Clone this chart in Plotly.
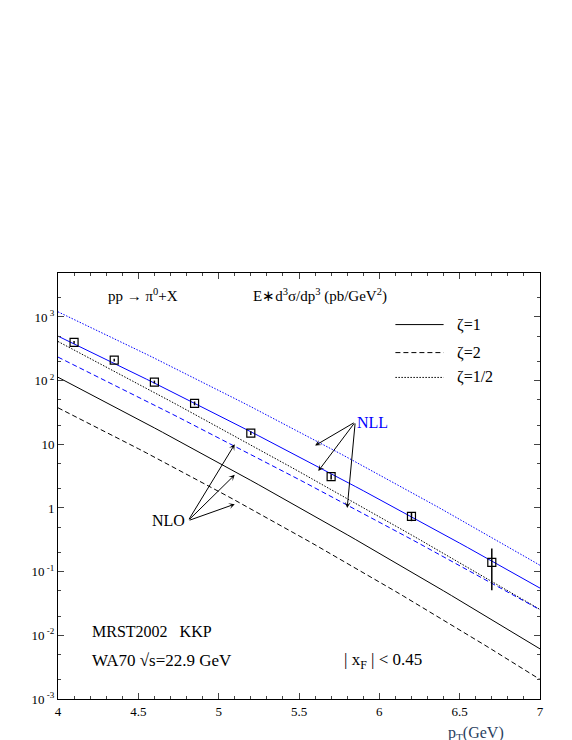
import plotly.graph_objects as go
import numpy as np

pt_grid = [4.0, 5.0, 6.0, 7.0]
# log10 values of theory curves at pt_grid
nll_z1 = [2.70, 1.45, 0.14, -1.26]
nll_z05 = [3.08, 1.85, 0.52, -0.90]
nll_z2 = [2.37, 1.10, -0.22, -1.60]
nlo_z05 = [2.62, 1.25, -0.12, -1.60]
nlo_z1 = [2.04, 0.75, -0.75, -2.20]
nlo_z2 = [1.56, 0.30, -1.20, -2.68]

data_pt = [4.1, 4.35, 4.6, 4.85, 5.2, 5.7, 6.2, 6.7]
data_y = [400, 210, 95, 44, 15, 3.1, 0.74, 0.14]
err_up = [20, 10, 5, 3, 1.0, 0.3, 0.12, 0.09]
err_dn = [20, 10, 5, 3, 1.0, 0.3, 0.12, 0.089]

font = "Liberation Serif"
fig = go.Figure()

def curve(vals, color, dash):
    xs = np.linspace(4, 7, 61)
    c = np.polyfit(pt_grid, vals, 2)
    ys = 10 ** np.polyval(c, xs)
    fig.add_trace(go.Scatter(x=xs, y=ys, mode="lines", showlegend=False,
                             line=dict(color=color, width=1, dash=dash)))

DASH = "5px,3px"
DOT = "1.5px,1.5px"
curve(nlo_z2, "black", DASH)
curve(nlo_z1, "black", "solid")
curve(nlo_z05, "black", DOT)
curve(nll_z2, "blue", DASH)
curve(nll_z1, "blue", "solid")
curve(nll_z05, "blue", DOT)

fig.add_trace(go.Scatter(x=data_pt, y=data_y, mode="markers", showlegend=False,
                         marker=dict(symbol="square-open", size=8, color="black", line=dict(width=1.2)),
                         error_y=dict(type="data", array=err_up, arrayminus=err_dn, color="black", width=0, thickness=1.5)))

def txt(x, y, s, size=14, color="black", anchor="left"):
    fig.add_annotation(x=x, y=y, text=s, showarrow=False, xanchor=anchor, yanchor="middle",
                       font=dict(family=font, size=size, color=color))

txt(4.3, 3.34, "pp → π<sup>0</sup>+X", 15)
txt(5.2, 3.34, "E∗d<sup>3</sup>σ/dp<sup>3</sup> (pb/GeV<sup>2</sup>)", 15)
txt(6.47, 2.88, "ζ=1", 16)
txt(6.47, 2.44, "ζ=2", 16)
txt(6.47, 2.05, "ζ=1/2", 16)
for yv, d in [(2.88, "solid"), (2.44, DASH), (2.05, DOT)]:
    fig.add_shape(type="line", x0=6.1, x1=6.4, y0=10**yv, y1=10**yv, line=dict(color="black", width=1, dash=d))
txt(5.85, 1.35, "NLL", 16, "blue")
txt(4.8, -0.2, "NLO", 16, anchor="right")
txt(4.2, -1.94, "MRST2002   KKP", 16)
txt(4.2, -2.40, "WA70 √s=22.9 GeV", 17)
txt(5.77, -2.40, "| x<sub>F</sub> | < 0.45", 17)

for (tx, ty) in [(5.6, 0.98), (5.62, 0.58), (5.8, 0.0)]:
    fig.add_annotation(x=tx, y=ty, ax=5.85, ay=1.35, axref="x", ayref="y", xref="x", yref="y",
                       showarrow=True, arrowhead=3, arrowsize=1, arrowwidth=1, arrowcolor="black", text="")
for (tx, ty) in [(5.1, 1.0), (5.1, 0.52), (5.1, 0.06)]:
    fig.add_annotation(x=tx, y=ty, ax=4.81, ay=-0.2, axref="x", ayref="y", xref="x", yref="y",
                       showarrow=True, arrowhead=3, arrowsize=1, arrowwidth=1, arrowcolor="black", text="")

fig.add_annotation(x=0.93, y=-0.055, xref="paper", yref="paper", text="p<sub>T</sub>(GeV)", showarrow=False,
                   xanchor="right", yanchor="top", font=dict(family=font, size=16))

tv = [1e-3, 1e-2, 1e-1, 1, 10, 100, 1000]
tt = ["10<sup> -3</sup>", "10<sup> -2</sup>", "10<sup> -1</sup>", "1", "10", "10<sup> 2</sup>", "10<sup> 3</sup>"]
fig.update_yaxes(type="log", range=[-3, 3.69], tickvals=tv, ticktext=tt, ticks="inside", ticklen=6,
                 mirror="ticks", showline=True, linecolor="black", linewidth=1, showgrid=False, zeroline=False,
                 minor=dict(ticks="inside", ticklen=3, showgrid=False),
                 tickfont=dict(family=font, size=13, color="black"))
fig.update_xaxes(range=[4, 7], dtick=0.5, ticks="inside", ticklen=6, mirror="ticks", showline=True,
                 linecolor="black", linewidth=1, showgrid=False, zeroline=False,
                 minor=dict(ticks="inside", ticklen=3, dtick=0.1),
                 tickfont=dict(family=font, size=13, color="black"))
fig.update_layout(width=572, height=740, margin=dict(l=50, r=40, t=265, b=49),
                  plot_bgcolor="white", paper_bgcolor="white", font=dict(family=font))
fig.write_html("out.html")
